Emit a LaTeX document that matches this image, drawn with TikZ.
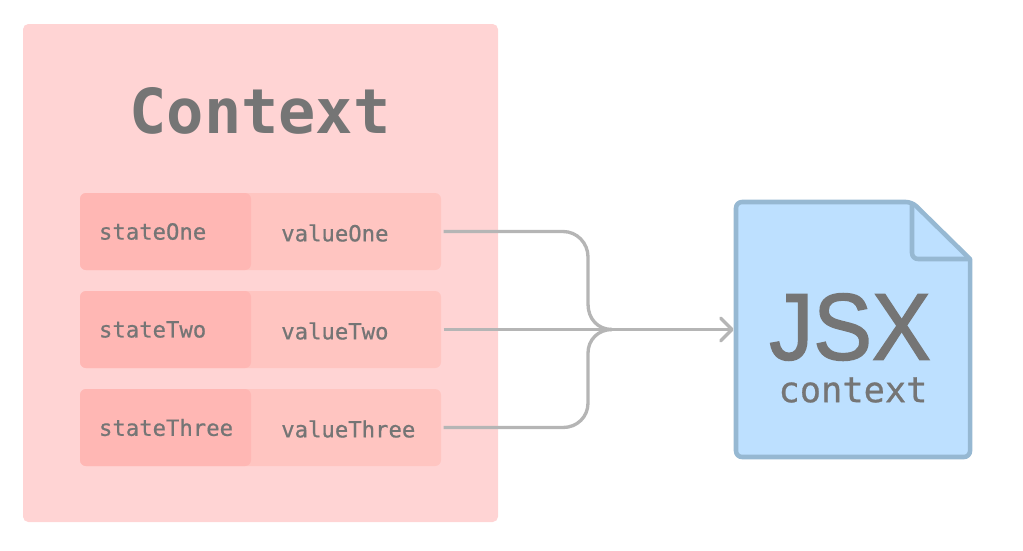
\documentclass[tikz,border=0pt]{standalone}
\usepackage{fontspec}
\usepackage{xcolor}
\setmainfont{Liberation Sans}
\setmonofont{DejaVu Sans Mono}
\newfontfamily\monomid[FakeBold=0.7]{DejaVu Sans Mono}
\newfontfamily\jsxfont[FakeStretch=0.93,FakeBold=1.6]{Liberation Sans}
\usetikzlibrary{positioning,calc,arrows.meta}
\definecolor{ctxfill}{HTML}{FFD4D4}
\definecolor{rowfill}{HTML}{FFC5C1}
\definecolor{keyfill}{HTML}{FFB7B4}
\definecolor{inkgray}{HTML}{757575}
\definecolor{wiregray}{HTML}{B5B5B5}
\definecolor{docfill}{HTML}{BDE0FF}
\definecolor{docline}{HTML}{96B8D2}
\tikzset{
  ctxbox/.style={fill=ctxfill,rounded corners=4pt,minimum width=356.25pt,minimum height=373.5pt,inner sep=0pt},
  rowbox/.style={fill=rowfill,rounded corners=4.5pt,minimum width=270.75pt,minimum height=57.75pt,inner sep=0pt,outer sep=2pt},
  keybox/.style={fill=keyfill,rounded corners=4.5pt,minimum height=57.75pt,inner xsep=14.25pt,inner ysep=0pt,text width=99.75pt,align=left,text=inkgray,font=\monomid\fontsize{16.7}{18}\selectfont},
  valtext/.style={inner sep=0pt,anchor=west,text=inkgray,font=\monomid\fontsize{16.7}{18}\selectfont},
  docbody/.style={minimum width=177pt,minimum height=192pt,inner sep=0pt,outer sep=0pt},
  wire/.style={draw=wiregray,line width=2.5pt},
}
\begin{document}
\begin{tikzpicture}[x=0.75pt,y=-0.75pt]
        \useasboundingbox (0,0) rectangle (1023,550);

        % Context panel
        \node[ctxbox] (ctx) at (260.5,273) {};
        \node[text=inkgray,font=\ttfamily\bfseries\fontsize{46.5}{50}\selectfont] (ctxtitle) at (260,111) {Context};

        % Rows
        \node[rowbox] (rowOne) at (260.5,231.5) {};
        \node[rowbox] (rowTwo) at (260.5,329.5) {};
        \node[rowbox] (rowThree) at (260.5,427.5) {};

        \node[keybox] (stateOne) at (165.5,231.5) {stateOne};
        \node[keybox] (stateTwo) at (165.5,329.5) {stateTwo};
        \node[keybox] (stateThree) at (165.5,427.5) {stateThree};

        \node[valtext] (valueOne) at (281,233) {valueOne};
        \node[valtext] (valueTwo) at (281,331) {valueTwo};
        \node[valtext] (valueThree) at (281,429) {valueThree};

        % JSX file
        \node[docbody] (doc) at (853,329.5) {};
        \draw[docline,fill=docfill,line width=3.4pt,line join=round,rounded corners=4.5pt]
            (736,202) -- (912,202) [sharp corners] -- (970,259) [rounded corners=4.5pt] -- (970,457) -- (736,457) -- cycle;
        \draw[docline,line width=3.4pt,line join=round,rounded corners=4.5pt]
            (912,202) -- (912,259) -- (970,259);
        \node[inner sep=0pt,text=inkgray,font=\jsxfont\fontsize{71}{74}\selectfont] (jsx) at (850,327) {JSX};
        \node[inner sep=0pt,text=inkgray,font=\monomid\fontsize{26.5}{28}\selectfont] (jsxsub) at (853,390) {context};

        % Connectors
        \coordinate (merge) at (612,329.5);
        \coordinate (bendOne) at (588,304);
        \coordinate (bendThree) at (588,353);
        \draw[wire] (rowOne.east) -- (563,231.5) .. controls (577,231.5) and (588,243) .. (588,257)
            -- (bendOne) .. controls (588,319) and (598,329.5) .. (merge);
        \draw[wire] (rowThree.east) -- (563,427.5) .. controls (577,427.5) and (588,417) .. (588,403)
            -- (bendThree) .. controls (588,340) and (598,329.5) .. (merge);
        \draw[wire,shorten >=1pt,-{Straight Barb[length=8.5pt,width=17pt,round]}] (rowTwo.east) -- (doc.west);
    \end{tikzpicture}
\end{document}
